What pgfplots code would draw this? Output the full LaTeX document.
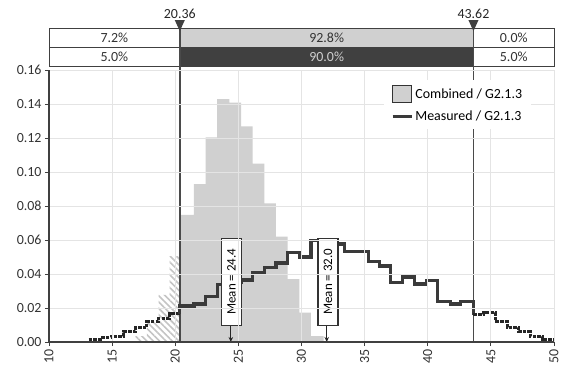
\documentclass[border=0pt]{standalone}
\usepackage{fontspec}
\setmainfont{Carlito}
\usepackage{pgfplots}
\pgfplotsset{compat=1.18}
\usetikzlibrary{patterns.meta,arrows.meta}

\definecolor{bargray}{HTML}{D0D0D0}
\definecolor{linegray}{HTML}{3A3A3A}
\definecolor{gridgray}{HTML}{E4E4E4}
\definecolor{darkbox}{HTML}{404040}
\definecolor{specline}{HTML}{4A4A4A}
\definecolor{hatchgray}{HTML}{C4C4C4}

\begin{document}
\begin{tikzpicture}[font=\fontsize{14}{16}\selectfont]
\begin{axis}[
  set layers=axis on top,
  at={(0,0)}, anchor=south west, scale only axis,
  width=505bp, height=271.7bp,
  xmin=10, xmax=50, ymin=0, ymax=0.16,
  axis x line*=bottom, axis y line*=left,
  axis line style={-, black!75, line width=1.2bp},
  xtick={10,15,20,25,30,35,40,45,50},
  ytick={0,0.02,0.04,0.06,0.08,0.1,0.12,0.14,0.16},
  yticklabel style={/pgf/number format/fixed, /pgf/number format/fixed zerofill, /pgf/number format/precision=2},
  xticklabel style={rotate=90, anchor=east},
  ticklabel style={font=\fontsize{14}{16}\selectfont, text=black!80},
  /pgf/number format/assume math mode=true,
  tick align=outside, major tick length=4bp,
  tick style={black!75, line width=0.8bp},
  grid=major, grid style={gridgray, line width=1bp},
  clip=false,
  legend style={at={(axis cs:36.53,0.1543)}, anchor=north west, draw=none, fill=white,
    inner xsep=7bp, inner ysep=5bp, row sep=6bp, font=\fontsize{14}{16}\selectfont},
  legend cell align=left,
]
% legend entries
\addlegendimage{legend image code/.code={\draw[fill=bargray,draw=black!80,line width=0.8bp] (0bp,-8.5bp) rectangle (19bp,8.5bp);}}
\addlegendentry{Combined / G2.1.3}
\addlegendimage{legend image code/.code={\draw[linegray,line width=3.2bp] (0bp,0bp) -- (19bp,0bp);}}
\addlegendentry{Measured / G2.1.3}

% Combined histogram inside spec (gray)
\addplot[const plot, fill=bargray, draw=none, forget plot] coordinates {
 (20.36,0.0748) (21.48,0.0930) (22.40,0.1205) (23.32,0.1430) (24.28,0.1410)
 (25.21,0.1270) (26.13,0.1050) (27.05,0.0816) (27.98,0.0620) (28.90,0.0370)
 (29.83,0.0173) (30.75,0.0035) (31.75,0.0035)} \closedcycle;
% Combined histogram outside spec (hatched)
\addplot[const plot, pattern={Lines[angle=-45, distance=4.5bp, line width=1.6bp]}, pattern color=hatchgray, draw=none, forget plot] coordinates {
 (16.84,0.0035) (17.76,0.0120) (18.69,0.0277) (19.56,0.0506) (20.36,0.0506)} \closedcycle;

% spec boxes on top
\filldraw[fill=white, draw=black!75, line width=1bp] (axis cs:10,0.1734) rectangle (axis cs:20.36,0.1849);
\filldraw[fill=bargray, draw=black!75, line width=1bp] (axis cs:20.36,0.1734) rectangle (axis cs:43.62,0.1849);
\filldraw[fill=white, draw=black!75, line width=1bp] (axis cs:43.62,0.1734) rectangle (axis cs:50,0.1849);
\filldraw[fill=white, draw=black!75, line width=1bp] (axis cs:10,0.1620) rectangle (axis cs:20.36,0.1734);
\filldraw[fill=darkbox, draw=black!75, line width=1bp] (axis cs:20.36,0.1620) rectangle (axis cs:43.62,0.1734);
\filldraw[fill=white, draw=black!75, line width=1bp] (axis cs:43.62,0.1620) rectangle (axis cs:50,0.1734);
\node[text=black!80] at (axis cs:15.18,0.17915) {7.2\%};
\node[text=black!80] at (axis cs:31.99,0.17915) {92.8\%};
\node[text=black!80] at (axis cs:46.81,0.17915) {0.0\%};
\node[text=black!80] at (axis cs:15.18,0.1677) {5.0\%};
\node[text=bargray] at (axis cs:31.99,0.1677) {90.0\%};
\node[text=black!80] at (axis cs:46.81,0.1677) {5.0\%};

% spec lines
\draw[specline, line width=1.6bp] (axis cs:20.36,0) -- (axis cs:20.36,0.1849);
\draw[specline, line width=1.6bp] (axis cs:43.62,0) -- (axis cs:43.62,0.1849);
\fill[black!75] (axis cs:19.96,0.1896) -- (axis cs:20.76,0.1896) -- (axis cs:20.36,0.1831) -- cycle;
\fill[black!75] (axis cs:43.22,0.1896) -- (axis cs:44.02,0.1896) -- (axis cs:43.62,0.1831) -- cycle;
\node[anchor=south, inner sep=1.5bp, text=black!85] at (axis cs:20.36,0.1896) {20.36};
\node[anchor=south, inner sep=1.5bp, text=black!85] at (axis cs:43.62,0.1896) {43.62};

% Measured step line (dashed outside spec)
\addplot[const plot, black!85, line width=3bp, dash pattern=on 3.5bp off 1.2bp, forget plot] coordinates {
 (13.14,0.0016) (14.06,0.0025) (14.98,0.0035) (15.90,0.0060) (16.84,0.0085)
 (17.76,0.0120) (18.69,0.0140) (19.56,0.0165) (20.36,0.0165)};
\addplot[const plot, linegray, line width=3.2bp, forget plot] coordinates {
 (20.36,0.0165) (20.36,0.0212) (21.48,0.0224) (22.40,0.0270) (23.32,0.0340) (24.28,0.0350)
 (25.21,0.0365) (26.13,0.0408) (27.05,0.0440) (27.98,0.0465) (28.90,0.0526)
 (29.83,0.0500) (30.75,0.0597) (31.70,0.0600) (32.62,0.0577) (33.40,0.0535)
 (34.35,0.0535) (35.32,0.0475) (36.15,0.0448) (37.05,0.0350) (38.00,0.0383)
 (38.92,0.0342) (39.88,0.0361) (40.80,0.0237) (41.78,0.0224) (42.62,0.0237)
 (43.62,0.0159)};
\addplot[const plot, black!85, line width=3bp, dash pattern=on 3.5bp off 1.2bp, forget plot] coordinates {
 (43.62,0.0159) (44.42,0.0172) (45.35,0.0120) (46.28,0.0088) (47.20,0.0060)
 (48.12,0.0035) (49.05,0.0016) (49.98,0.0016)};

% mean markers (positions kept for drawing after the axis)
\coordinate (a1top) at (axis cs:24.40,0.0100);
\coordinate (a1bot) at (axis cs:24.40,0);
\coordinate (a2top) at (axis cs:32.00,0.0100);
\coordinate (a2bot) at (axis cs:32.00,0);
\coordinate (b1) at (axis cs:24.45,0.0355);
\coordinate (b2) at (axis cs:32.10,0.0355);
\end{axis}
\draw[black!85, line width=1.2bp, -{Stealth[length=5bp,width=4.5bp]}] (a1top) -- (a1bot);
\draw[black!85, line width=1.2bp, -{Stealth[length=5bp,width=4.5bp]}] (a2top) -- (a2bot);
\node[draw=black!80, fill=white, line width=1.2bp, rotate=90, minimum width=87bp, minimum height=20bp, inner sep=0pt, font=\fontsize{13}{15}\selectfont] at (b1) {Mean = 24.4};
\node[draw=black!80, fill=white, line width=1.2bp, rotate=90, minimum width=87bp, minimum height=20bp, inner sep=0pt, font=\fontsize{13}{15}\selectfont] at (b2) {Mean = 32.0};
\pgfresetboundingbox
\useasboundingbox (-49bp,-24bp) rectangle (512bp,342bp);
\end{tikzpicture}
\end{document}
